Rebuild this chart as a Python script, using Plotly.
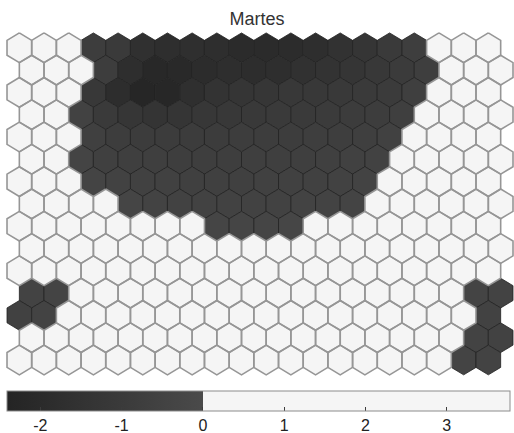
import math
import plotly.graph_objects as go

title_text = "Martes"
n_rows = 15
n_cols = 20

# SOM component values, row 0 = top row; odd rows are shifted right by half a cell
row_00 = [1.0, 1.0, 1.0, -0.82, -1.00, -1.65, -1.78, -1.72, -1.78, -1.97, -1.97, -1.90, -1.78, -1.52, -1.33, -1.01, -0.76, 1.0, 1.0, 1.0]
row_01 = [1.0, 1.0, 1.0, -0.82, -1.78, -2.16, -2.09, -1.90, -1.78, -1.84, -1.78, -1.59, -1.46, -1.33, -1.14, -0.95, -0.76, 1.0, 1.0, 1.0]
row_02 = [1.0, 1.0, 1.0, -1.14, -1.84, -2.28, -2.22, -1.71, -1.46, -1.33, -1.27, -1.14, -1.14, -1.08, -1.01, -0.95, -0.70, 1.0, 1.0, 1.0]
row_03 = [1.0, 1.0, -0.51, -1.01, -1.27, -1.40, -1.33, -1.20, -1.14, -1.08, -1.01, -1.01, -0.95, -0.89, -0.82, -0.70, 1.0, 1.0, 1.0, 1.0]
row_04 = [1.0, 1.0, 1.0, -0.63, -0.82, -0.89, -0.89, -0.89, -0.89, -0.82, -0.82, -0.82, -0.76, -0.76, -0.70, -0.57, 1.0, 1.0, 1.0, 1.0]
row_05 = [1.0, 1.0, -0.38, -0.63, -0.70, -0.70, -0.76, -0.76, -0.76, -0.70, -0.70, -0.70, -0.63, -0.57, -0.51, 1.0, 1.0, 1.0, 1.0, 1.0]
row_06 = [1.0, 1.0, 1.0, -0.38, -0.51, -0.57, -0.57, -0.63, -0.63, -0.63, -0.57, -0.57, -0.57, -0.51, -0.44, 1.0, 1.0, 1.0, 1.0, 1.0]
row_07 = [1.0, 1.0, 1.0, 1.0, -0.32, -0.44, -0.51, -0.51, -0.51, -0.51, -0.51, -0.44, -0.44, -0.38, 1.0, 1.0, 1.0, 1.0, 1.0, 1.0]
row_08 = [1.0, 1.0, 1.0, 1.0, 1.0, 1.0, 1.0, 1.0, -0.32, -0.30, -0.30, -0.28, 1.0, 1.0, 1.0, 1.0, 1.0, 1.0, 1.0, 1.0]
row_09 = [1.0, 1.0, 1.0, 1.0, 1.0, 1.0, 1.0, 1.0, 1.0, 1.0, 1.0, 1.0, 1.0, 1.0, 1.0, 1.0, 1.0, 1.0, 1.0, 1.0]
row_10 = [1.0, 1.0, 1.0, 1.0, 1.0, 1.0, 1.0, 1.0, 1.0, 1.0, 1.0, 1.0, 1.0, 1.0, 1.0, 1.0, 1.0, 1.0, 1.0, 1.0]
row_11 = [-0.45, -0.40, 1.0, 1.0, 1.0, 1.0, 1.0, 1.0, 1.0, 1.0, 1.0, 1.0, 1.0, 1.0, 1.0, 1.0, 1.0, 1.0, -0.35, -0.45]
row_12 = [-0.55, -0.45, 1.0, 1.0, 1.0, 1.0, 1.0, 1.0, 1.0, 1.0, 1.0, 1.0, 1.0, 1.0, 1.0, 1.0, 1.0, 1.0, 1.0, -0.50]
row_13 = [1.0, 1.0, 1.0, 1.0, 1.0, 1.0, 1.0, 1.0, 1.0, 1.0, 1.0, 1.0, 1.0, 1.0, 1.0, 1.0, 1.0, 1.0, -0.45, -0.50]
row_14 = [1.0, 1.0, 1.0, 1.0, 1.0, 1.0, 1.0, 1.0, 1.0, 1.0, 1.0, 1.0, 1.0, 1.0, 1.0, 1.0, 1.0, 1.0, -0.40, -0.45]
grid = [row_00, row_01, row_02, row_03, row_04, row_05, row_06, row_07,
        row_08, row_09, row_10, row_11, row_12, row_13, row_14]

cmin, cmax = -2.41, 3.78
tick_vals = [-2, -1, 0, 1, 2, 3]
tick_text = ["-2", "-1", "0", "1", "2", "3"]

dark_lo = (36, 36, 36)
dark_hi = (74, 74, 74)
light = (245, 245, 245)
z0 = (0 - cmin) / (cmax - cmin)


def rgb(t):
    return "rgb(%d,%d,%d)" % tuple(int(round(v)) for v in t)


colorscale = [[0.0, rgb(dark_lo)], [z0, rgb(dark_hi)], [z0, rgb(light)], [1.0, rgb(light)]]


def value_color(v):
    if v >= 0:
        return rgb(light)
    f = (v - cmin) / (0 - cmin)
    f = max(0.0, min(1.0, f))
    return rgb(tuple(a + (b - a) * f for a, b in zip(dark_lo, dark_hi)))


R = 1 / math.sqrt(3)
DY = math.sqrt(3) / 2
angles = [90, 30, -30, -90, -150, 150, 90]


def hex_xy(r, c):
    cx = c + 0.5 * (r % 2)
    cy = -DY * r
    xs = [cx + R * math.cos(math.radians(a)) for a in angles]
    ys = [cy + R * math.sin(math.radians(a)) for a in angles]
    return xs, ys


fig = go.Figure()

# dark (negative) cells, each with its own colour from the colour scale
for r in range(n_rows):
    for c in range(n_cols):
        v = grid[r][c]
        if v < 0:
            xs, ys = hex_xy(r, c)
            fig.add_trace(go.Scatter(x=xs, y=ys, mode="lines", fill="toself",
                                     fillcolor=value_color(v),
                                     line=dict(color="rgb(34,34,34)", width=0.8),
                                     hoverinfo="skip", showlegend=False))

# light (positive) cells share one colour
wx, wy = [], []
for r in range(n_rows):
    for c in range(n_cols):
        v = grid[r][c]
        if v >= 0:
            xs, ys = hex_xy(r, c)
            wx += xs + [None]
            wy += ys + [None]
fig.add_trace(go.Scatter(x=wx, y=wy, mode="lines", fill="toself",
                         fillcolor=rgb(light),
                         line=dict(color="rgb(150,150,150)", width=1.6),
                         hoverinfo="skip", showlegend=False))

# colour bar carrier
fig.add_trace(go.Scatter(
    x=[-5, -5], y=[0, 0], mode="markers", hoverinfo="skip", showlegend=False,
    marker=dict(color=[cmin, cmax], cmin=cmin, cmax=cmax, colorscale=colorscale,
                showscale=True, size=1,
                colorbar=dict(orientation="h", thicknessmode="pixels", thickness=20,
                              lenmode="pixels", len=503,
                              x=258.5 / 514, xanchor="center",
                              y=1 - 391 / 433, yanchor="top",
                              xpad=0, ypad=0,
                              outlinewidth=1, outlinecolor="rgb(140,140,140)",
                              tickvals=tick_vals, ticktext=tick_text,
                              ticks="inside", ticklen=4, tickcolor="rgb(60,60,60)",
                              tickfont=dict(size=16, color="#222",
                                            family="Liberation Sans, Arial")))))

fig.update_layout(
    width=514, height=433,
    margin=dict(l=0, r=0, t=0, b=0, autoexpand=False),
    paper_bgcolor="white", plot_bgcolor="white",
    title=dict(text=title_text, x=0.5, xanchor="center",
               y=1 - 19 / 433, yanchor="middle",
               font=dict(size=18, color="#333", family="Liberation Sans, Arial")),
    xaxis=dict(visible=False, range=[-0.784, 20.04], fixedrange=True),
    yaxis=dict(visible=False, range=[-14.96, 1.856], fixedrange=True),
    showlegend=False,
)

fig.write_html("out.html", config={"displayModeBar": False},
               post_script="document.body.style.margin='0px';")
